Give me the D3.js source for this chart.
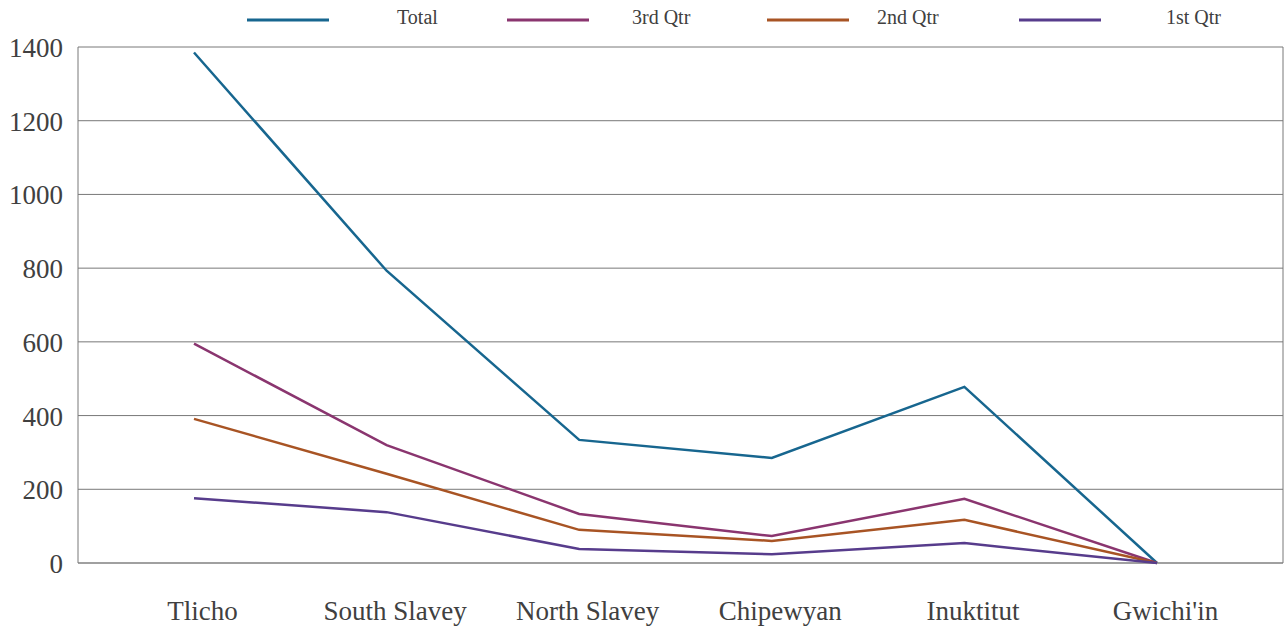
<!DOCTYPE html>
<html>
<head>
<meta charset="utf-8">
<script src="https://cdn.jsdelivr.net/npm/d3@7"></script>
<style>
  body { margin: 0; background: #fff; }
</style>
</head>
<body>
<script>
var categories = ["Tlicho", "South Slavey", "North Slavey", "Chipewyan", "Inuktitut", "Gwichi'in"];
var seriesNames = ["Total", "3rd Qtr", "2nd Qtr", "1st Qtr"];
var totalValues = [1385, 793, 334, 285, 478, 0];
var q3Values = [595, 320, 133, 73, 174, 0];
var q2Values = [391, 242, 90, 60, 117, 0];
var q1Values = [176, 138, 38, 24, 54, 0];
var yTicks = [0, 200, 400, 600, 800, 1000, 1200, 1400];

var colors = ["#17668f", "#8a356f", "#a85424", "#573c8c"];
var allValues = [totalValues, q3Values, q2Values, q1Values];

var fontFamily = "'Liberation Serif', 'Times New Roman', serif";
var width = 1284, height = 630;
var plot = {left: 78, right: 1283, top: 47, bottom: 563};

var svg = d3.select("body")
  .append("svg")
  .attr("width", width)
  .attr("height", height)
  .style("font-family", fontFamily);

var xScale = d3.scalePoint()
  .domain(categories)
  .range([194, 1157]);

var yScale = d3.scaleLinear()
  .domain([0, 1400])
  .range([plot.bottom, plot.top]);

// gridlines
svg.append("g")
  .selectAll("line")
  .data(yTicks)
  .enter().append("line")
  .attr("x1", plot.left)
  .attr("x2", plot.right)
  .attr("y1", function(d) { return yScale(d); })
  .attr("y2", function(d) { return yScale(d); })
  .attr("stroke", function(d) { return d === 0 ? "#a0a0a0" : "#787878"; })
  .attr("stroke-width", function(d) { return d === 0 ? 2 : 1; });

// frame sides
svg.append("line")
  .attr("x1", plot.left).attr("x2", plot.left)
  .attr("y1", plot.top).attr("y2", plot.bottom)
  .attr("stroke", "#787878");
svg.append("line")
  .attr("x1", plot.right).attr("x2", plot.right)
  .attr("y1", plot.top).attr("y2", plot.bottom)
  .attr("stroke", "#787878");

// y axis labels
var yAxis = d3.axisLeft(yScale)
  .tickValues(yTicks)
  .tickSize(0)
  .tickPadding(15)
  .tickFormat(d3.format("d"));

var yG = svg.append("g")
  .attr("transform", "translate(" + plot.left + ",0)")
  .call(yAxis)
  .attr("font-family", null)
  .attr("font-size", null);
yG.select(".domain").remove();
yG.selectAll("text")
  .style("font-family", fontFamily)
  .style("font-size", "27px")
  .attr("fill", "#404040")
  .attr("dy", "0.35em");

// x axis labels (reference labels sit a little right of the points)
var xAxis = d3.axisBottom(xScale)
  .tickSize(0)
  .tickPadding(38);

var xG = svg.append("g")
  .attr("transform", "translate(8," + plot.bottom + ")")
  .call(xAxis)
  .attr("font-family", null)
  .attr("font-size", null);
xG.select(".domain").remove();
xG.selectAll("text")
  .style("font-family", fontFamily)
  .style("font-size", "27px")
  .attr("fill", "#404040");

// lines
var line = d3.line()
  .x(function(d, i) { return xScale(categories[i]); })
  .y(function(d) { return yScale(d); });

svg.append("g")
  .selectAll("path")
  .data(allValues)
  .enter().append("path")
  .attr("d", line)
  .attr("fill", "none")
  .attr("stroke", function(d, i) { return colors[i]; })
  .attr("stroke-width", 2.5)
  .attr("stroke-linejoin", "miter");

// legend
var legendLineX = [247, 507, 767, 1019];
var legendTextX = [397, 632, 877, 1166];

var legend = svg.append("g")
  .selectAll("g")
  .data(seriesNames)
  .enter().append("g");

legend.append("line")
  .attr("x1", function(d, i) { return legendLineX[i]; })
  .attr("x2", function(d, i) { return legendLineX[i] + 82; })
  .attr("y1", 20)
  .attr("y2", 20)
  .attr("stroke", function(d, i) { return colors[i]; })
  .attr("stroke-width", 3);

legend.append("text")
  .attr("x", function(d, i) { return legendTextX[i]; })
  .attr("y", 24)
  .attr("fill", "#404040")
  .style("font-family", fontFamily)
  .style("font-size", "20px")
  .text(function(d) { return d; });
</script>
</body>
</html>
